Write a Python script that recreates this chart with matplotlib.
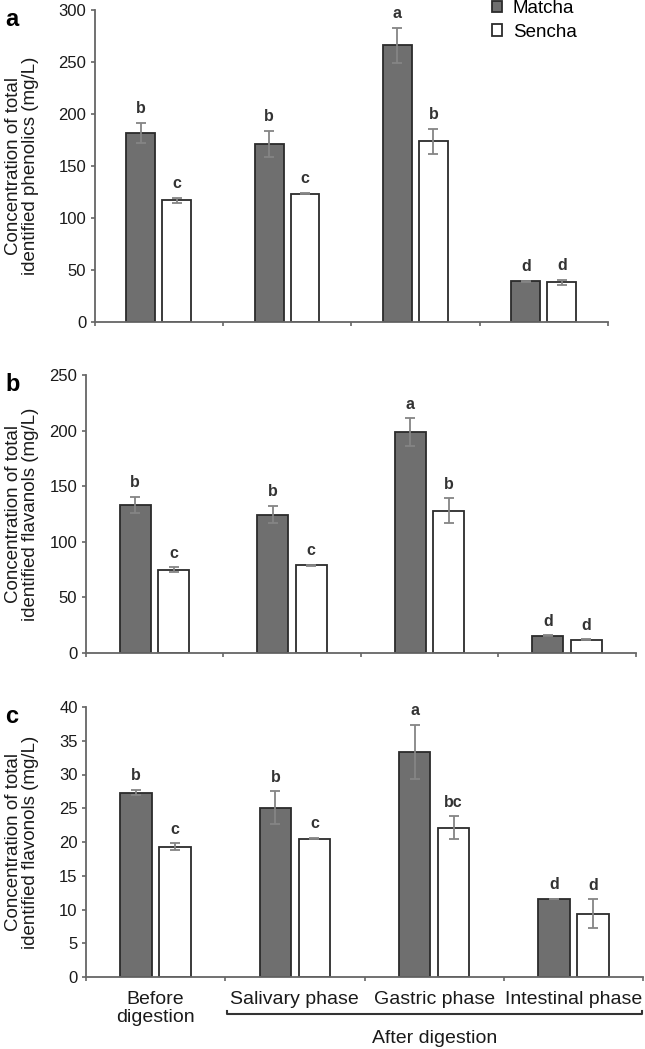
import matplotlib
matplotlib.use("Agg")
import matplotlib.pyplot as plt
import numpy as np
from matplotlib.patches import Patch
from matplotlib.transforms import blended_transform_factory

plt.rcParams['font.family'] = ['Liberation Sans', 'DejaVu Sans']

categories = ["Before\ndigestion", "Salivary phase", "Gastric phase", "Intestinal phase"]
series = ["Matcha", "Sencha"]

# Panel a: total identified phenolics (mg/L)
a_matcha = [182, 171, 266, 39]
a_matcha_err = [9.6, 12.5, 17, 0.5]
a_sencha = [117, 123.5, 174, 38]
a_sencha_err = [2.5, 0.5, 12, 2.2]
a_matcha_let = ["b", "b", "a", "d"]
a_sencha_let = ["c", "c", "b", "d"]

# Panel b: total identified flavanols (mg/L)
b_matcha = [133, 124.5, 198.5, 15.5]
b_matcha_err = [7.5, 7.5, 12.5, 0.3]
b_sencha = [75, 79, 128, 12]
b_sencha_err = [2, 0.4, 11, 0.3]
b_matcha_let = ["b", "b", "a", "d"]
b_sencha_let = ["c", "c", "b", "d"]

# Panel c: total identified flavonols (mg/L)
c_matcha = [27.3, 25.1, 33.4, 11.55]
c_matcha_err = [0.4, 2.4, 4.0, 0.05]
c_sencha = [19.3, 20.5, 22.1, 9.4]
c_sencha_err = [0.5, 0.1, 1.7, 2.1]
c_matcha_let = ["b", "b", "a", "d"]
c_sencha_let = ["c", "c", "bc", "d"]

ylabels = ["Concentration of total\nidentified phenolics (mg/L)",
           "Concentration of total\nidentified flavanols (mg/L)",
           "Concentration of total\nidentified flavonols (mg/L)"]
ymax = [300, 250, 40]
ystep = [50, 50, 5]
panel_letters = ["a", "b", "c"]

W, H = 645, 1049
fig = plt.figure(figsize=(W / 100, H / 100), dpi=100)

# axes boxes in pixels: left, right, top, bottom
boxes = [(94.5, 608, 10, 322), (85.6, 636, 375, 653), (86, 643, 707, 977)]

data = [
    (a_matcha, a_matcha_err, a_sencha, a_sencha_err, a_matcha_let, a_sencha_let),
    (b_matcha, b_matcha_err, b_sencha, b_sencha_err, b_matcha_let, b_sencha_let),
    (c_matcha, c_matcha_err, c_sencha, c_sencha_err, c_matcha_let, c_sencha_let),
]

matcha_color = "#6f6f6f"
edge_color = "#2b2b2b"
err_color = "#858585"
axis_color = "#666666"
text_color = "#1a1a1a"
width = 0.225
off = 0.14
x = np.arange(len(categories))

axes = []
for i, (box, d) in enumerate(zip(boxes, data)):
    l, r, t, b = box
    ax = fig.add_axes([l / W, 1 - b / H, (r - l) / W, (b - t) / H])
    axes.append(ax)
    m, me, s, se, ml, sl = d
    ax.bar(x - off, m, width, color=matcha_color, edgecolor=edge_color, linewidth=1.3, zorder=2)
    ax.bar(x + off, s, width, color="white", edgecolor=edge_color, linewidth=1.3, zorder=2)
    ax.errorbar(x - off, m, yerr=me, fmt="none", ecolor=err_color, elinewidth=1.3,
                capsize=3.5, capthick=1.3, zorder=3)
    ax.errorbar(x + off, s, yerr=se, fmt="none", ecolor=err_color, elinewidth=1.3,
                capsize=3.5, capthick=1.3, zorder=3)
    for xi, v, e, lab in zip(x - off, m, me, ml):
        ax.annotate(lab, (xi, v + e), xytext=(0, 7), textcoords="offset points",
                    ha="center", va="baseline", fontsize=11.5, fontweight="bold", color="#333333")
    for xi, v, e, lab in zip(x + off, s, se, sl):
        ax.annotate(lab, (xi, v + e), xytext=(0, 7), textcoords="offset points",
                    ha="center", va="baseline", fontsize=11.5, fontweight="bold", color="#333333")

    ax.set_xlim(-0.5, len(categories) - 0.5)
    ax.set_ylim(0, ymax[i])
    ax.set_yticks(np.arange(0, ymax[i] + 0.1, ystep[i]))
    ax.tick_params(axis="y", direction="out", length=3, width=1.2, color=axis_color,
                   labelsize=12, labelcolor=text_color, pad=3)
    ax.set_xticks(np.arange(-0.5, len(categories), 1.0))
    ax.tick_params(axis="x", direction="out", length=3, width=1.2, color=axis_color,
                   labelbottom=False)
    for sp in ["top", "right"]:
        ax.spines[sp].set_visible(False)
    for sp in ["left", "bottom"]:
        ax.spines[sp].set_color(axis_color)
        ax.spines[sp].set_linewidth(1.3)

    yc = 1 - (t + b) / 2 / H
    fig.text(22 / W, yc, ylabels[i], rotation=90, ha="center", va="center",
             fontsize=13.5, linespacing=0.95, color=text_color)
    fig.text(5 / W, 1 - (t + 16) / H, panel_letters[i], ha="left", va="baseline",
             fontsize=17, fontweight="bold", color="black")

# category labels under the last panel
axc = axes[2]
for xi, lab in zip(x, categories):
    axc.annotate(lab, (xi, 0), xytext=(0, -10), textcoords="offset points",
                 ha="center", va="top", fontsize=14, color=text_color, linespacing=1.1,
                 annotation_clip=False)

# bracket "After digestion"
tr = blended_transform_factory(axc.transData, fig.transFigure)
yb = 1 - 1013.5 / H
yb_up = 1 - 1010.5 / H
xl, xr = 0.5 + 0.01, 3.5 - 0.01
axc.plot([xl, xl, xr, xr], [yb_up, yb, yb, yb_up], color="#333333", lw=1.5,
         transform=tr, clip_on=False)
axc.text(2.0, 1 - 1043 / H, "After digestion", transform=tr, ha="center", va="baseline",
         fontsize=14, color=text_color)

# legend
handles = [Patch(facecolor=matcha_color, edgecolor=edge_color, linewidth=1.3),
           Patch(facecolor="white", edgecolor=edge_color, linewidth=1.3)]
fig.legend(handles, series, loc="upper left", bbox_to_anchor=(492 / W, 1 - 0 / H),
           frameon=False, fontsize=13.5, handlelength=0.55, handleheight=0.55,
           handletextpad=0.55, labelspacing=0.35, borderpad=0.0, borderaxespad=0.0)

fig.savefig("out.png", dpi=100)
